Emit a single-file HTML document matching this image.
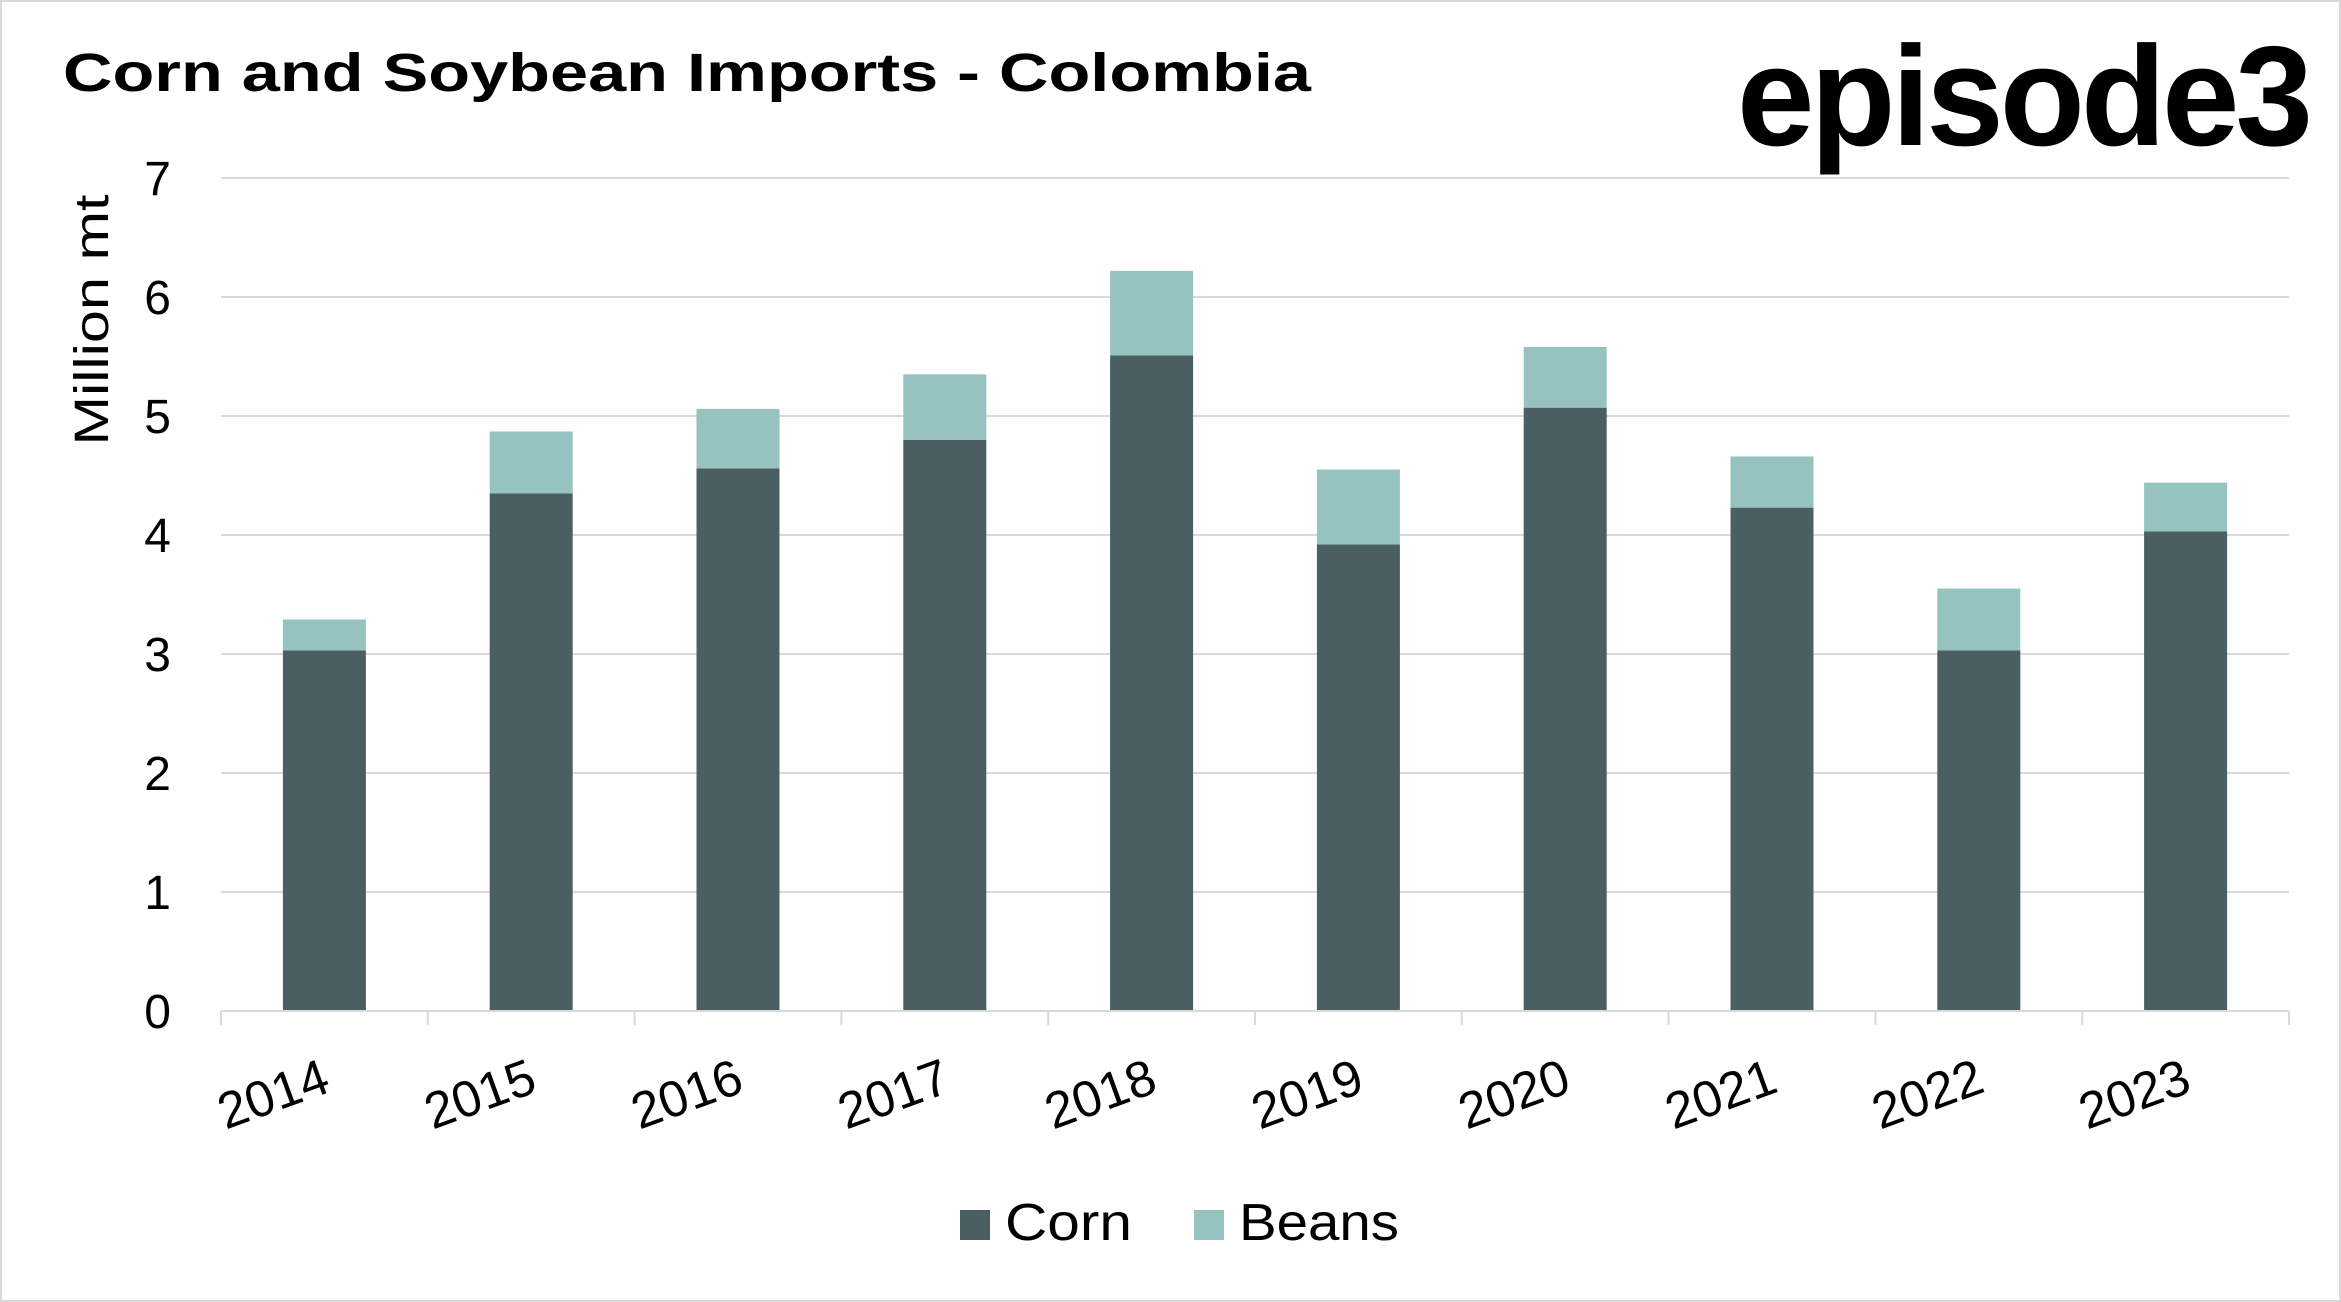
<!DOCTYPE html>
<html><head><meta charset="utf-8"><style>
html,body{margin:0;padding:0;background:#fff}
svg{display:block;font-family:"Liberation Sans",sans-serif}
</style></head><body>
<svg id="chart" width="2341" height="1302" viewBox="0 0 2341 1302" xmlns="http://www.w3.org/2000/svg">
<rect x="1" y="1" width="2339" height="1300" fill="#fff" stroke="#d9d9d9" stroke-width="2"/>
<text x="63" y="91" font-size="54" font-weight="bold" fill="#000" textLength="1248" lengthAdjust="spacingAndGlyphs">Corn and Soybean Imports - Colombia</text>
<text x="1737" y="145" font-size="142" font-weight="bold" fill="#000" textLength="572" lengthAdjust="spacingAndGlyphs" letter-spacing="-4">episode3</text>
<text transform="translate(108,320) rotate(-90)" text-anchor="middle" font-size="48" fill="#000" textLength="251" lengthAdjust="spacingAndGlyphs">Million mt</text>
<g id="grid"></g><g id="bars"></g><g id="xaxis"></g>
<g>
<rect x="960" y="1210" width="30" height="30" fill="#4b5f62"/>
<text x="1005" y="1240" font-size="52" fill="#000" textLength="127" lengthAdjust="spacingAndGlyphs">Corn</text>
<rect x="1194" y="1210" width="30" height="30" fill="#96c3c0"/>
<text x="1239" y="1240" font-size="52" fill="#000" textLength="160" lengthAdjust="spacingAndGlyphs">Beans</text>
</g>
</svg>
<script>
const categories=["2014","2015","2016","2017","2018","2019","2020","2021","2022","2023"];
const corn=[3.03,4.35,4.56,4.80,5.51,3.92,5.07,4.23,3.03,4.03];
const beans=[0.26,0.52,0.50,0.55,0.71,0.63,0.51,0.43,0.52,0.41];
const yTicks=[0,1,2,3,4,5,6,7];
const NS="http://www.w3.org/2000/svg";
const L=221,R=2289,Y0=1011,Y7=178;
const y=v=>Y0-(v/7)*(Y0-Y7);
const band=(R-L)/categories.length;
const xc=i=>L+band*(i+0.5);
function mk(t,a,p){const e=document.createElementNS(NS,t);for(const k in a)e.setAttribute(k,a[k]);p.appendChild(e);return e;}
const grid=document.getElementById('grid');
yTicks.forEach(t=>{
  if(t>0){const l=mk('line',{x1:L,x2:R,y1:y(t),y2:y(t),stroke:'#d9d9d9','stroke-width':2},grid);
  
  }
  const tx=mk('text',{x:171,y:y(t)+17,'text-anchor':'end','font-size':48,fill:'#000'},grid);
  tx.textContent=t;
  
  
});
const xa=document.getElementById('xaxis');
const ax=mk('line',{x1:L,x2:R,y1:Y0,y2:Y0,stroke:'#d9d9d9','stroke-width':2},xa);


for(let i=0;i<=categories.length;i++){
  const tk=mk('line',{x1:L+band*i,x2:L+band*i,y1:Y0,y2:Y0+14,stroke:'#d9d9d9','stroke-width':2},xa);
  
  
}
const bars=document.getElementById('bars');
const bw=83;
categories.forEach((c,i)=>{
  const b1=mk('rect',{x:xc(i)-bw/2,y:y(corn[i]),width:bw,height:Y0-y(corn[i]),fill:'#4b5f62'},bars);
  
  
  const tot=corn[i]+beans[i];
  const b2=mk('rect',{x:xc(i)-bw/2,y:y(tot),width:bw,height:y(corn[i])-y(tot),fill:'#96c3c0'},bars);
  
  
  const tx=mk('text',{transform:`translate(${xc(i)+8},${Y0+80}) rotate(-20)`,'text-anchor':'end','font-size':51,fill:'#000'},xa);
  tx.textContent=c;
  
  
});
</script>
</body></html>
